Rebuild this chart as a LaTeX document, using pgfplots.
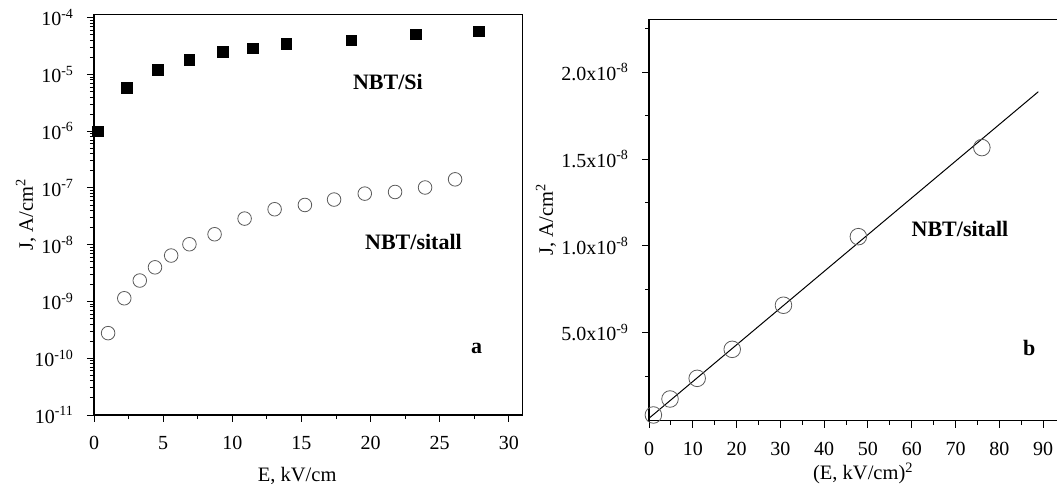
\documentclass[border=0pt]{standalone}
\usepackage{fontspec}
\setmainfont{Liberation Serif}
\usepackage{pgfplots}
\pgfplotsset{compat=1.18}

\definecolor{markgray}{RGB}{90,90,90}

\pgfplotsset{
  panel/.style={
    scale only axis,
    anchor=south west,
    axis line style={line width=1.1pt},
    every tick/.style={line width=1pt, black},
    major tick length=7pt, minor tick length=4pt,
    tick align=outside,
    xtick pos=left, ytick pos=left,
    /pgf/number format/assume math mode=true,
    tick label style={font=\fontsize{20}{22}\selectfont},
    xticklabel style={yshift=-11pt},
    yticklabel style={xshift=-10pt},
    label style={font=\fontsize{20.5}{22}\selectfont},
  },
}
\tikzset{lbl/.style={font=\bfseries\fontsize{22}{24}\selectfont}}

\begin{document}
\begin{tikzpicture}
\useasboundingbox (0,0) rectangle (1057pt,484pt);

% panel a: J(E), log scale
\begin{axis}[panel,
  at={(94pt,69pt)}, width=428.7pt, height=400.3pt,
  xmin=0, xmax=31,
  ymode=log, ymin=1e-11, ymax=1.13e-4,
  xtick={0,5,...,30}, minor xtick={2.5,7.5,...,27.5},
  ytick={1e-11,1e-10,1e-9,1e-8,1e-7,1e-6,1e-5,1e-4},
  yticklabels={10\textsuperscript{-11},10\textsuperscript{-10},10\textsuperscript{-9},
    10\textsuperscript{-8},10\textsuperscript{-7},10\textsuperscript{-6},
    10\textsuperscript{-5},10\textsuperscript{-4}},
  minor ytick={2e-11,3e-11,4e-11,5e-11,6e-11,7e-11,8e-11,9e-11,
    2e-10,3e-10,4e-10,5e-10,6e-10,7e-10,8e-10,9e-10,
    2e-9,3e-9,4e-9,5e-9,6e-9,7e-9,8e-9,9e-9,
    2e-8,3e-8,4e-8,5e-8,6e-8,7e-8,8e-8,9e-8,
    2e-7,3e-7,4e-7,5e-7,6e-7,7e-7,8e-7,9e-7,
    2e-6,3e-6,4e-6,5e-6,6e-6,7e-6,8e-6,9e-6,
    2e-5,3e-5,4e-5,5e-5,6e-5,7e-5,8e-5,9e-5},
  xlabel={E, kV/cm},
  xlabel style={at={(axis description cs:0.474,-0.165)}, anchor=base},
  ylabel={J, A/cm\textsuperscript{2}},
  ylabel style={at={(axis description cs:-0.1423,0.5)}, anchor=base},
]
  % NBT/Si
  \addplot[only marks, mark=square*, mark size=5.3pt, black]
    coordinates {(0.25,1.0e-6)(2.37,5.9e-6)(4.61,1.2e-5)(6.87,1.8e-5)(9.30,2.5e-5)
      (11.49,2.9e-5)(13.90,3.5e-5)(18.59,4.0e-5)(23.25,5.1e-5)(27.83,5.8e-5)};
  % NBT/sitall
  \addplot[only marks, mark=o, mark size=6.8pt, markgray, line width=0.8pt]
    coordinates {(1.02,2.77e-10)(2.19,1.14e-9)(3.31,2.34e-9)(4.41,4.0e-9)(5.58,6.45e-9)
      (6.90,1.02e-8)(8.72,1.53e-8)(10.89,2.89e-8)(13.06,4.22e-8)(15.25,5.02e-8)
      (17.36,6.25e-8)(19.58,7.96e-8)(21.77,8.5e-8)(23.94,1.02e-7)(26.11,1.42e-7)};
  \node[lbl] at (axis cs:21.25,7.4e-6) {NBT/Si};
  \node[lbl] at (axis cs:23.1,1.1e-8) {NBT/sitall};
  \node[lbl] at (axis cs:27.66,1.5e-10) {a};
\end{axis}

% panel b: J vs E^2, linear
\begin{axis}[panel,
  at={(649pt,63.3pt)}, width=411.7pt, height=401.4pt,
  xmin=0, xmax=94, ymin=-0.07e-9, ymax=23.05e-9,
  xtick={0,10,...,90}, minor xtick={5,15,...,85},
  ytick={5e-9,1e-8,1.5e-8,2e-8},
  yticklabels={5.0x10\textsuperscript{-9},1.0x10\textsuperscript{-8},
    1.5x10\textsuperscript{-8},2.0x10\textsuperscript{-8}},
  minor ytick={2.5e-9,7.5e-9,1.25e-8,1.75e-8,2.25e-8},
  scaled y ticks=false,
  xlabel={(E, kV/cm)\textsuperscript{2}},
  xlabel style={at={(axis description cs:0.52,-0.147)}, anchor=base},
  ylabel={J, A/cm\textsuperscript{2}},
  ylabel style={at={(axis description cs:-0.2332,0.5)}, anchor=base},
]
  \addplot[black, line width=1pt]
    coordinates {(0,0.07e-9)(88.9,18.88e-9)};
  \addplot[only marks, mark=o, mark size=8.3pt, markgray, line width=0.8pt]
    coordinates {(1.0,0.26e-9)(4.8,1.18e-9)(11.0,2.37e-9)(19.0,4.04e-9)
      (30.7,6.58e-9)(47.8,10.53e-9)(76.0,15.66e-9)};
  \node[lbl] at (axis cs:71.0,11.0e-9) {NBT/sitall};
  \node[lbl] at (axis cs:86.8,4.1e-9) {b};
\end{axis}
\end{tikzpicture}
\end{document}
